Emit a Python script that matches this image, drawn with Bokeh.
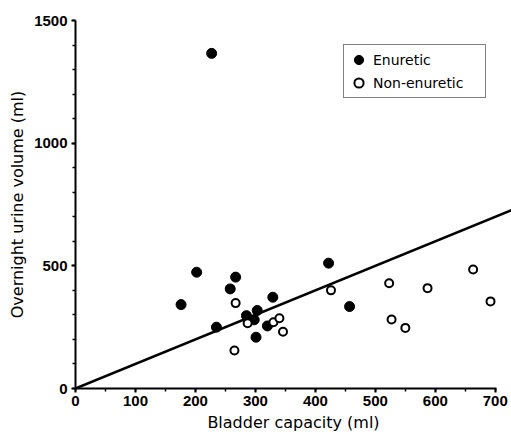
from bokeh.plotting import figure
from bokeh.models import Range1d, SingleIntervalTicker, Legend, LegendItem
from bokeh.embed import file_html
from bokeh.resources import INLINE

# Enuretic (filled)
enu_x = [227, 176, 202, 267, 258, 235, 285, 303, 298, 301, 329, 320, 422, 457]
enu_y = [1366, 342, 474, 454, 406, 250, 297, 318, 280, 209, 372, 255, 511, 334]
# Non-enuretic (open)
non_x = [267, 287, 265, 330, 340, 346, 426, 523, 587, 663, 692, 527, 550]
non_y = [348, 266, 155, 270, 286, 231, 400, 429, 409, 485, 355, 281, 247]
# fitted line y = slope * x
slope = 1.0
fit_x = [0, 727]
fit_y = [slope * v for v in fit_x]

x_ticks_interval = 100
y_ticks_interval = 500

p = figure(output_backend="svg", toolbar_location=None,
           frame_width=436, frame_height=368,
           min_border_left=75, min_border_right=0, min_border_top=20, min_border_bottom=56,
           x_range=Range1d(0, 727), y_range=Range1d(0, 1500))
p.outline_line_color = None
p.xgrid.visible = False
p.ygrid.visible = False
p.background_fill_color = "white"
p.border_fill_color = "white"

p.line(fit_x, fit_y, line_color="black", line_width=2.5)
r1 = p.scatter(enu_x, enu_y, size=10, fill_color="black", line_color="black", line_width=1)
r2 = p.scatter(non_x, non_y, size=8, fill_color="white", line_color="black", line_width=2)

for ax in (p.xaxis[0], p.yaxis[0]):
    ax.axis_line_width = 2
    ax.axis_line_color = "black"
    ax.major_tick_line_width = 2
    ax.minor_tick_line_width = 1.5
    ax.major_tick_in = 0
    ax.major_tick_out = 4
    ax.minor_tick_in = 0
    ax.minor_tick_out = 3
    ax.major_label_text_font = "Liberation Sans"
    ax.major_label_text_font_style = "bold"
    ax.major_label_text_font_size = "15px"
    ax.major_label_text_color = "black"
    ax.axis_label_text_font = "DejaVu Sans"
    ax.axis_label_text_font_style = "normal"
    ax.axis_label_text_font_size = "16px"
    ax.axis_label_text_color = "black"

p.xaxis[0].ticker = SingleIntervalTicker(interval=x_ticks_interval, num_minor_ticks=2)
p.yaxis[0].ticker = SingleIntervalTicker(interval=y_ticks_interval, num_minor_ticks=5)
p.xaxis[0].bounds = (0, 702)
p.xaxis[0].axis_label = "Bladder capacity (ml)"
p.yaxis[0].axis_label = "Overnight urine volume (ml)"
p.xaxis[0].major_label_standoff = 3
p.yaxis[0].major_label_standoff = 4
p.xaxis[0].axis_label_standoff = 4
p.yaxis[0].axis_label_standoff = 4

legend = Legend(items=[LegendItem(label="Enuretic", renderers=[r1]),
                       LegendItem(label="Non-enuretic", renderers=[r2])],
                location=(268, 290))
legend.border_line_color = "black"
legend.border_line_width = 1.5
legend.padding = 3
legend.spacing = 0
legend.margin = 0
legend.glyph_width = 23
legend.glyph_height = 23
legend.label_height = 23
legend.label_standoff = 3
legend.label_width = 109
legend.label_text_font = "DejaVu Sans"
legend.label_text_font_size = "14px"
legend.label_text_color = "black"
legend.background_fill_alpha = 1
p.add_layout(legend)

open("out.html", "w").write(file_html(p, INLINE))
